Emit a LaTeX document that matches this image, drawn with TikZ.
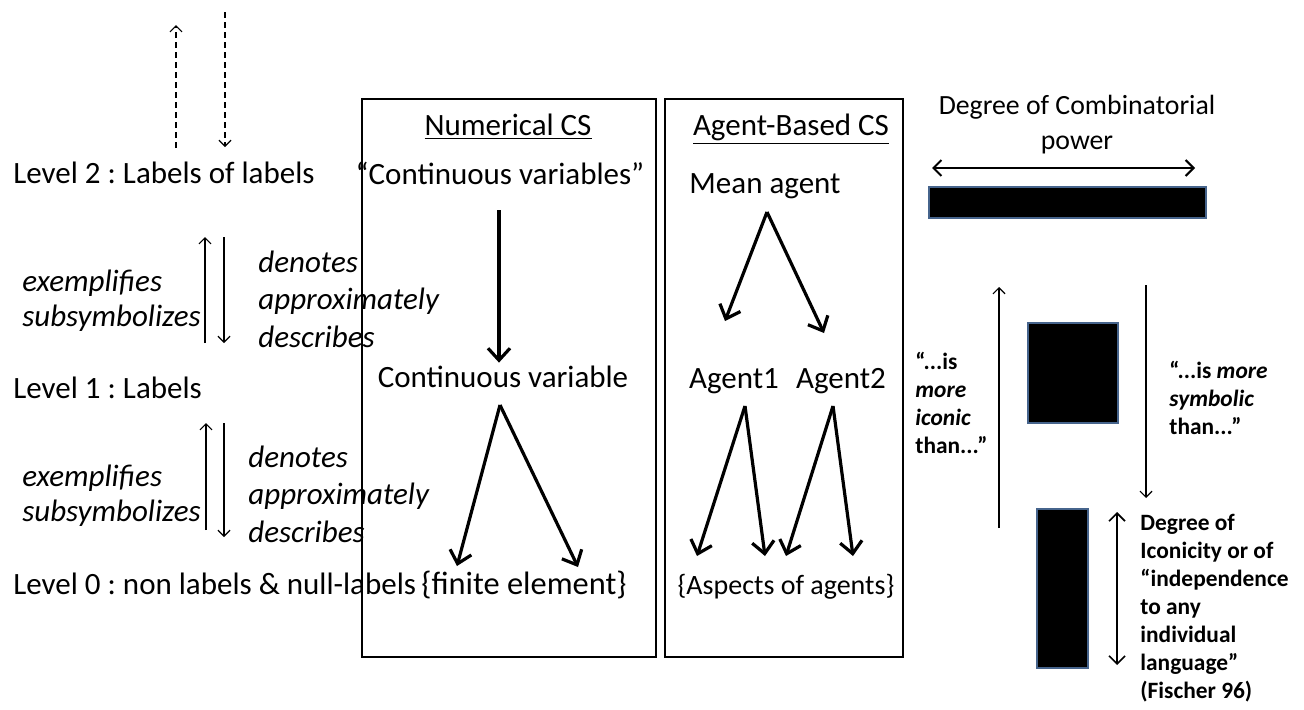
\documentclass[tikz,border=0pt]{standalone}
\usepackage{fontspec}
\setmainfont{Carlito}
\usetikzlibrary{positioning,fit,arrows.meta}
\definecolor{barblue}{RGB}{70,100,140}
\frenchspacing

\tikzset{
    txt/.style={inner sep=0pt, font=\fontsize{15.5}{18}\selectfont, text height=11pt, text depth=3pt},
    lvl/.style={txt, anchor=west},
    rel/.style={txt, anchor=west, font=\fontsize{15.5}{18}\selectfont\itshape},
    note/.style={inner sep=0pt, anchor=north west, align=left, font=\fontsize{11.7}{14}\selectfont\bfseries},
    bigarr/.style={line width=1.6pt, -{Straight Barb[length=6pt,width=11pt]}},
    thinarr/.style={line width=0.6pt, -{Straight Barb[length=3pt,width=6pt]}},
    dblarr/.style={{Straight Barb[length=4pt,width=8pt]}-{Straight Barb[length=4pt,width=8pt]}},
    bar/.style={fill=black, draw=barblue, line width=1pt, inner sep=0pt},
    csbox/.style={draw, line width=1pt, inner sep=0pt},
}

\begin{document}
\begin{tikzpicture}[x=0.5pt,y=-0.5pt]
        \useasboundingbox (0,0) rectangle (1304,709);

        % the three levels
        \node[lvl] (lvtwo) at (13,175) {Level 2 : Labels of labels};
        \node[lvl] (lvone) at (13,390) {Level 1 : Labels};
        \node[lvl] (lvzero) at (13,586) {Level 0 : non labels \& null-labels};

        \coordinate (upa) at (176,148);
        \coordinate (upb) at (176,25);
        \coordinate (dna) at (225,12);
        \coordinate (dnb) at (225,147);
        \draw[thinarr,dash pattern=on 3pt off 2pt] (upa) -- (upb);
        \draw[thinarr,dash pattern=on 3pt off 2pt] (dna) -- (dnb);

        % between level 2 and level 1
        \node[rel] (exa) at (22,283) {exemplifies};
        \node[rel, below right=3.5pt and 0pt of exa.south west] (sba) {subsymbolizes};
        \node[rel] (dea) at (258,264) {denotes};
        \node[rel, below right=4.5pt and 0pt of dea.south west] (apa) {approximately};
        \node[rel, below right=4.5pt and 0pt of apa.south west] (dsa) {describes};
        \coordinate (ua1) at (205,343);
        \coordinate (ua2) at (205,237);
        \coordinate (da1) at (224,237);
        \coordinate (da2) at (224,343);
        \draw[thinarr] (ua1) -- (ua2);
        \draw[thinarr] (da1) -- (da2);

        % between level 1 and level 0
        \node[rel] (exb) at (22,478) {exemplifies};
        \node[rel, below right=3.5pt and 0pt of exb.south west] (sbb) {subsymbolizes};
        \node[rel] (deb) at (248,459) {denotes};
        \node[rel, below right=4.5pt and 0pt of deb.south west] (apb) {approximately};
        \node[rel, below right=4.5pt and 0pt of apb.south west] (dsb) {describes};
        \coordinate (ub1) at (206,530);
        \coordinate (ub2) at (206,423);
        \coordinate (db1) at (224,423);
        \coordinate (db2) at (224,537);
        \draw[thinarr] (ub1) -- (ub2);
        \draw[thinarr] (db1) -- (db2);

        % numerical CS
        \coordinate (nbxa) at (362,99);
        \coordinate (nbxb) at (656,657);
        \node[csbox, fit=(nbxa)(nbxb)] (numbox) {};
        \node[txt] (numtitle) at (508,127) {\underline{Numerical CS}};
        \node[txt] (cvars) at (500,176) {“Continuous variables”};
        \node[txt] (cvar) at (503,379) {Continuous variable};
        \node[txt, anchor=west, font=\fontsize{16.2}{18}\selectfont] (finel) at (421,586) {\{finite element\}};
        \draw[bigarr, shorten <=10pt, shorten >=1pt] (cvars.south -| 499,0) -- (cvar.north -| 499,0);
        \coordinate (cvfork) at (500,405);
        \coordinate (fina) at (457,566);
        \coordinate (finb) at (578,567);
        \draw[bigarr] (cvfork) -- (fina);
        \draw[bigarr] (cvfork) -- (finb);

        % agent-based CS
        \coordinate (abxa) at (665,99);
        \coordinate (abxb) at (903,657);
        \node[csbox, fit=(abxa)(abxb)] (agbox) {};
        \node[txt] (agtitle) at (791,127) {\underline{Agent-Based CS}};
        \node[txt] (mean) at (765,185) {Mean agent};
        \node[txt] (agone) at (734,380) {Agent1};
        \node[txt] (agtwo) at (841,380) {Agent2};
        \node[txt, font=\fontsize{14}{17}\selectfont] (aspects) at (786,586) {\{Aspects of agents\}};
        \coordinate (mfork) at (767,212);
        \coordinate (ma) at (725,321);
        \coordinate (mb) at (824,333);
        \draw[bigarr] (mfork) -- (ma);
        \draw[bigarr] (mfork) -- (mb);
        \coordinate (aofork) at (745,406);
        \coordinate (aoa) at (697,556);
        \coordinate (aob) at (765,556);
        \draw[bigarr] (aofork) -- (aoa);
        \draw[bigarr] (aofork) -- (aob);
        \coordinate (atfork) at (833,406);
        \coordinate (ata) at (786,556);
        \coordinate (atb) at (853,556);
        \draw[bigarr] (atfork) -- (ata);
        \draw[bigarr] (atfork) -- (atb);

        % combinatorial power vs iconicity
        \node[inner sep=0pt, align=center, font=\fontsize{13.9}{17.5}\selectfont] (combi) at (1077,125) {Degree of Combinatorial\\power};
        \coordinate (cpl) at (932,168);
        \coordinate (cpr) at (1195,168);
        \draw[dblarr, line width=1pt] (cpl) -- (cpr);

        \coordinate (wba) at (929,187);
        \coordinate (wbb) at (1206,218);
        \node[bar, fit=(wba)(wbb)] (widebar) {};
        \coordinate (sqa) at (1028,323);
        \coordinate (sqb) at (1118,423);
        \node[bar, fit=(sqa)(sqb)] (square) {};
        \coordinate (tba) at (1037,509);
        \coordinate (tbb) at (1088,668);
        \node[bar, fit=(tba)(tbb)] (tallbar) {};

        \coordinate (icl) at (999,528);
        \coordinate (ich) at (999,287);
        \draw[thinarr] (icl) -- (ich);
        \coordinate (syh) at (1146,285);
        \coordinate (syl) at (1146,498);
        \draw[thinarr] (syh) -- (syl);

        \node[note] (iconic) at (915,352) {“...is\\\textit{more}\\\textit{iconic}\\than...”};
        \node[note] (symbolic) at (1169,361) {“...is \textit{more}\\\textit{symbolic}\\than...”};

        \coordinate (ita) at (1117,512);
        \coordinate (itb) at (1117,665);
        \draw[dblarr, line width=0.8pt] (ita) -- (itb);
        \node[note] (iconicity) at (1140,514) {Degree of\\Iconicity or of\\“independence\\to any\\individual\\language”\\(Fischer 96)};
    \end{tikzpicture}
\end{document}
